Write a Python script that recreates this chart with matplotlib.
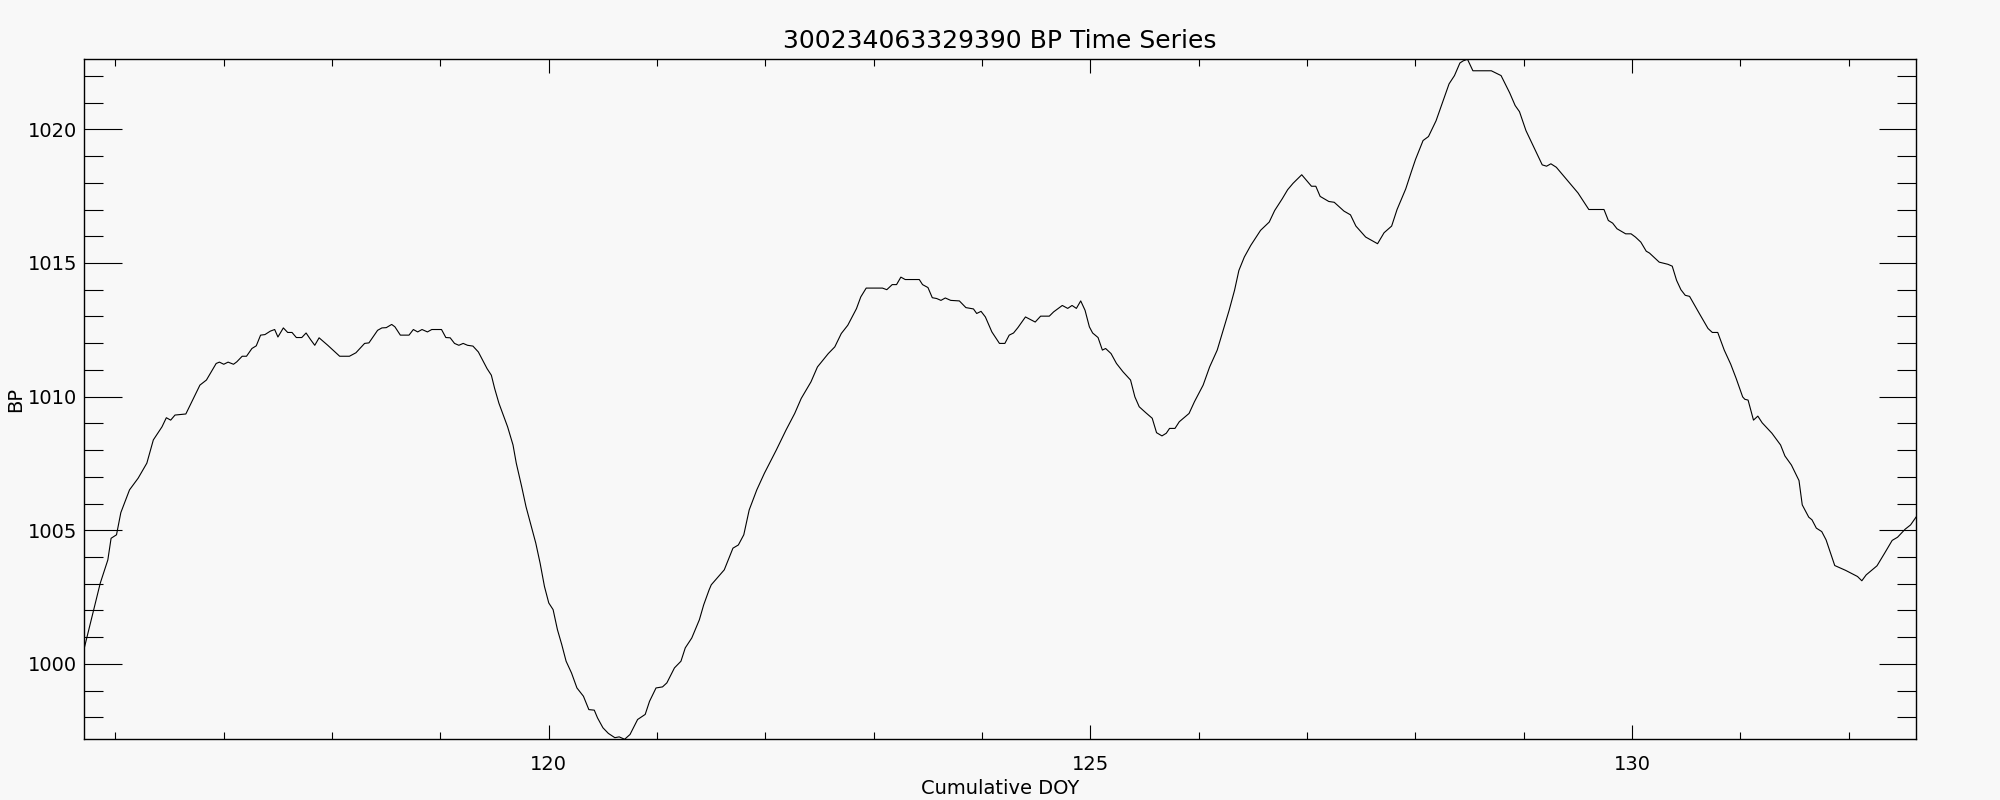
import matplotlib
matplotlib.use('Agg')
import matplotlib.pyplot as plt
from matplotlib.ticker import MultipleLocator
import numpy as np

plt.rcParams['font.family'] = ['DejaVu Sans']

# 气压时间序列
doy = [
    115.71, 115.80, 115.86, 115.93, 115.96, 116.01, 116.05, 116.13, 116.21, 116.29,
    116.35, 116.43, 116.47, 116.51, 116.55, 116.65, 116.78, 116.84, 116.93, 116.96,
    117.00, 117.04, 117.09, 117.12, 117.17, 117.21, 117.26, 117.30, 117.34, 117.38,
    117.43, 117.47, 117.50, 117.55, 117.59, 117.63, 117.67, 117.72, 117.76, 117.80,
    117.84, 117.88, 117.96, 118.07, 118.16, 118.22, 118.30, 118.34, 118.42, 118.46,
    118.50, 118.55, 118.58, 118.63, 118.71, 118.75, 118.79, 118.83, 118.88, 118.92,
    119.01, 119.05, 119.09, 119.13, 119.17, 119.21, 119.25, 119.30, 119.35, 119.39,
    119.43, 119.47, 119.50, 119.54, 119.58, 119.62, 119.67, 119.70, 119.75, 119.79,
    119.83, 119.88, 119.92, 119.96, 120.00, 120.04, 120.08, 120.12, 120.16, 120.21,
    120.26, 120.32, 120.37, 120.42, 120.45, 120.50, 120.55, 120.61, 120.65, 120.70,
    120.75, 120.82, 120.89, 120.93, 120.99, 121.05, 121.09, 121.16, 121.22, 121.26,
    121.32, 121.39, 121.43, 121.48, 121.50, 121.62, 121.70, 121.75, 121.80, 121.85,
    121.92, 121.99, 122.10, 122.19, 122.27, 122.33, 122.42, 122.48, 122.58, 122.64,
    122.70, 122.76, 122.84, 122.88, 122.93, 123.08, 123.12, 123.17, 123.21, 123.25,
    123.29, 123.42, 123.45, 123.50, 123.54, 123.58, 123.62, 123.66, 123.71, 123.79,
    123.85, 123.92, 123.95, 123.99, 124.03, 124.09, 124.16, 124.21, 124.25, 124.29,
    124.33, 124.40, 124.49, 124.54, 124.62, 124.66, 124.74, 124.79, 124.83, 124.87,
    124.91, 124.95, 124.99, 125.02, 125.07, 125.11, 125.14, 125.19, 125.24, 125.30,
    125.37, 125.41, 125.45, 125.51, 125.57, 125.61, 125.66, 125.70, 125.73, 125.78,
    125.82, 125.91, 125.96, 126.04, 126.10, 126.17, 126.22, 126.28, 126.33, 126.37,
    126.42, 126.48, 126.57, 126.65, 126.70, 126.77, 126.82, 126.87, 126.95, 127.04,
    127.08, 127.12, 127.20, 127.25, 127.34, 127.40, 127.45, 127.54, 127.65, 127.71,
    127.78, 127.83, 127.91, 127.96, 128.00, 128.07, 128.12, 128.19, 128.25, 128.31,
    128.36, 128.41, 128.44, 128.48, 128.53, 128.70, 128.79, 128.87, 128.92, 128.96,
    129.02, 129.10, 129.17, 129.21, 129.25, 129.30, 129.39, 129.50, 129.60, 129.74,
    129.78, 129.82, 129.86, 129.94, 129.99, 130.03, 130.08, 130.13, 130.16, 130.25,
    130.33, 130.37, 130.41, 130.45, 130.49, 130.53, 130.62, 130.70, 130.74, 130.79,
    130.85, 130.91, 130.96, 131.02, 131.04, 131.07, 131.12, 131.16, 131.20, 131.29,
    131.37, 131.41, 131.47, 131.54, 131.57, 131.63, 131.66, 131.70, 131.75, 131.79,
    131.87, 131.97, 132.08, 132.12, 132.16, 132.26, 132.33, 132.40, 132.45, 132.52,
    132.57, 132.62,
]
bp = [
    1000.55, 1002.03, 1003.02, 1003.89, 1004.70, 1004.83, 1005.66, 1006.51, 1006.95, 1007.51,
    1008.38, 1008.87, 1009.21, 1009.12, 1009.31, 1009.35, 1010.43, 1010.62, 1011.24, 1011.29,
    1011.21, 1011.29, 1011.21, 1011.30, 1011.51, 1011.51, 1011.80, 1011.90, 1012.30, 1012.32,
    1012.45, 1012.51, 1012.23, 1012.57, 1012.40, 1012.40, 1012.21, 1012.21, 1012.38, 1012.14,
    1011.92, 1012.20, 1011.92, 1011.51, 1011.51, 1011.64, 1011.99, 1012.01, 1012.48, 1012.57,
    1012.58, 1012.70, 1012.61, 1012.30, 1012.30, 1012.51, 1012.42, 1012.51, 1012.42, 1012.51,
    1012.51, 1012.21, 1012.20, 1011.99, 1011.92, 1011.99, 1011.92, 1011.89, 1011.67, 1011.36,
    1011.05, 1010.80, 1010.31, 1009.75, 1009.31, 1008.87, 1008.19, 1007.51, 1006.63, 1005.88,
    1005.27, 1004.52, 1003.77, 1002.90, 1002.28, 1002.03, 1001.28, 1000.72, 1000.10, 999.66,
    999.10, 998.79, 998.29, 998.27, 997.98, 997.61, 997.40, 997.24, 997.27, 997.18,
    997.36, 997.92, 998.11, 998.60, 999.10, 999.14, 999.29, 999.85, 1000.10, 1000.60,
    1000.97, 1001.65, 1002.21, 1002.77, 1002.96, 1003.52, 1004.33, 1004.45, 1004.83, 1005.76,
    1006.51, 1007.13, 1008.00, 1008.75, 1009.37, 1009.93, 1010.55, 1011.11, 1011.61, 1011.86,
    1012.36, 1012.67, 1013.29, 1013.73, 1014.06, 1014.06, 1014.00, 1014.19, 1014.19, 1014.47,
    1014.38, 1014.38, 1014.19, 1014.08, 1013.70, 1013.67, 1013.60, 1013.69, 1013.60, 1013.58,
    1013.33, 1013.28, 1013.11, 1013.19, 1012.98, 1012.42, 1011.99, 1011.99, 1012.30, 1012.38,
    1012.58, 1012.98, 1012.79, 1013.01, 1013.01, 1013.17, 1013.41, 1013.30, 1013.41, 1013.30,
    1013.58, 1013.23, 1012.61, 1012.38, 1012.21, 1011.74, 1011.80, 1011.61, 1011.24, 1010.93,
    1010.62, 1009.99, 1009.62, 1009.40, 1009.19, 1008.65, 1008.53, 1008.63, 1008.81, 1008.81,
    1009.06, 1009.37, 1009.81, 1010.43, 1011.11, 1011.74, 1012.42, 1013.23, 1013.98, 1014.72,
    1015.22, 1015.66, 1016.22, 1016.53, 1016.96, 1017.40, 1017.74, 1017.98, 1018.30, 1017.87,
    1017.87, 1017.49, 1017.30, 1017.27, 1016.94, 1016.80, 1016.38, 1015.97, 1015.72, 1016.13,
    1016.38, 1017.00, 1017.77, 1018.39, 1018.87, 1019.58, 1019.73, 1020.32, 1021.01, 1021.70,
    1022.01, 1022.48, 1022.56, 1022.62, 1022.19, 1022.19, 1022.01, 1021.36, 1020.89, 1020.66,
    1019.95, 1019.27, 1018.67, 1018.62, 1018.71, 1018.58, 1018.15, 1017.62, 1017.00, 1017.00,
    1016.59, 1016.49, 1016.28, 1016.09, 1016.09, 1015.97, 1015.78, 1015.44, 1015.37, 1015.03,
    1014.95, 1014.88, 1014.35, 1014.00, 1013.79, 1013.75, 1013.11, 1012.55, 1012.40, 1012.40,
    1011.74, 1011.21, 1010.68, 1009.99, 1009.90, 1009.87, 1009.12, 1009.27, 1009.02, 1008.63,
    1008.19, 1007.78, 1007.44, 1006.86, 1005.95, 1005.49, 1005.39, 1005.08, 1004.95, 1004.64,
    1003.68, 1003.50, 1003.27, 1003.11, 1003.33, 1003.67, 1004.14, 1004.62, 1004.74, 1005.04,
    1005.20, 1005.49,
]

title = '300234063329390 BP Time Series'
bg = '#f8f8f8'

fig = plt.figure(figsize=(20, 8), dpi=100, facecolor=bg)
ax = fig.add_axes([0.042, 0.0759, 0.916, 0.8500])
ax.set_facecolor(bg)

ax.plot(doy, bp, color='black', linewidth=0.8)

# IDL 风格: 轴范围正好等于数据范围
ax.set_xlim(min(doy), max(doy))
ax.set_ylim(min(bp), max(bp))

ax.xaxis.set_major_locator(MultipleLocator(5))
ax.xaxis.set_minor_locator(MultipleLocator(1))
ax.yaxis.set_major_locator(MultipleLocator(5))
ax.yaxis.set_minor_locator(MultipleLocator(1))

ax.tick_params(axis='both', which='both', direction='in', top=True, right=True,
               color='black', width=0.8, labelsize=14, labelcolor='black')
ax.tick_params(axis='x', which='major', length=10, pad=11)
ax.tick_params(axis='x', which='minor', length=5.3)
ax.tick_params(axis='y', which='major', length=27, pad=5)
ax.tick_params(axis='y', which='minor', length=13.5)

for s in ax.spines.values():
    s.set_linewidth(1.0)
    s.set_color('black')

ax.set_title(title, fontsize=18, pad=8)
ax.set_xlabel('Cumulative DOY', fontsize=14, labelpad=4)
ax.set_ylabel('BP', fontsize=14)
ax.yaxis.set_label_coords(-0.032, 0.5)

plt.savefig('out.png', dpi=100, facecolor=bg)
plt.close()
